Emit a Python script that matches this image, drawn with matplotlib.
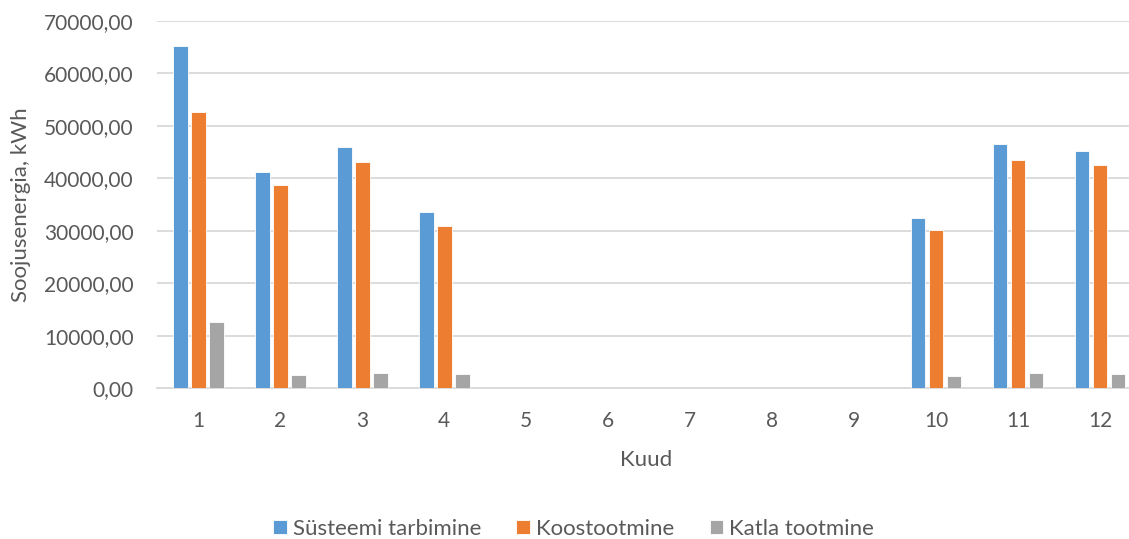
import numpy as np
import matplotlib
matplotlib.use("Agg")
import matplotlib.pyplot as plt
from matplotlib.ticker import FuncFormatter

# monthly heat energy, kWh
months = [str(m) for m in range(1, 13)]
susteemi_tarbimine = [65300, 41200, 46050, 33650, 0, 0, 0, 0, 0, 32500, 46600, 45150]
koostootmine = [52650, 38700, 43150, 31000, 0, 0, 0, 0, 0, 30150, 43450, 42500]
katla_tootmine = [12600, 2550, 3000, 2650, 0, 0, 0, 0, 0, 2300, 3000, 2650]

series = [
    ("Süsteemi tarbimine", susteemi_tarbimine, "#5B9BD5"),
    ("Koostootmine", koostootmine, "#ED7D31"),
    ("Katla tootmine", katla_tootmine, "#A5A5A5"),
]

text_color = "#595959"
plt.rcParams["font.family"] = ["Lato", "DejaVu Sans"]
plt.rcParams["font.size"] = 15

fig = plt.figure(figsize=(11.29, 5.39), dpi=100)
ax = fig.add_axes([0.1393, 0.2796, 0.8713, 0.6815])

x = np.arange(1, len(months) + 1)
slot = 0.22
for i, (name, vals, color) in enumerate(series):
    ax.bar(x + (i - 1) * slot, vals, width=0.18, color=color,
           edgecolor="white", linewidth=0.6, label=name, zorder=3)

ax.set_xlim(0.5, 12.5)
ax.set_ylim(0, 70000)
ax.set_yticks(np.arange(0, 70001, 10000))
ax.yaxis.set_major_formatter(FuncFormatter(lambda v, _: f"{v:.2f}".replace(".", ",")))
ax.set_xticks(x)
ax.set_xticklabels(months)

ax.grid(axis="y", color="#D9D9D9", linewidth=1.3, zorder=0)
for side in ("top", "right", "left"):
    ax.spines[side].set_visible(False)
ax.spines["bottom"].set_color("#D9D9D9")
ax.spines["bottom"].set_linewidth(1.3)
ax.tick_params(axis="both", length=0, colors=text_color)
ax.tick_params(axis="x", pad=16)
ax.tick_params(axis="y", pad=17)

fig.text(0.572, 0.147, "Kuud", ha="center", va="center", color=text_color, fontsize=16)
fig.text(0.019, 0.621, "Soojusenergia, kWh", ha="center", va="center",
         rotation=90, color=text_color, fontsize=16)

ax.legend(loc="center", bbox_to_anchor=(0.508, 0.019), bbox_transform=fig.transFigure,
          ncol=3, frameon=False, handlelength=0.6, handleheight=0.6,
          handletextpad=0.27, columnspacing=1.6, labelcolor=text_color, fontsize=16)

fig.savefig("out.png", dpi=100)
